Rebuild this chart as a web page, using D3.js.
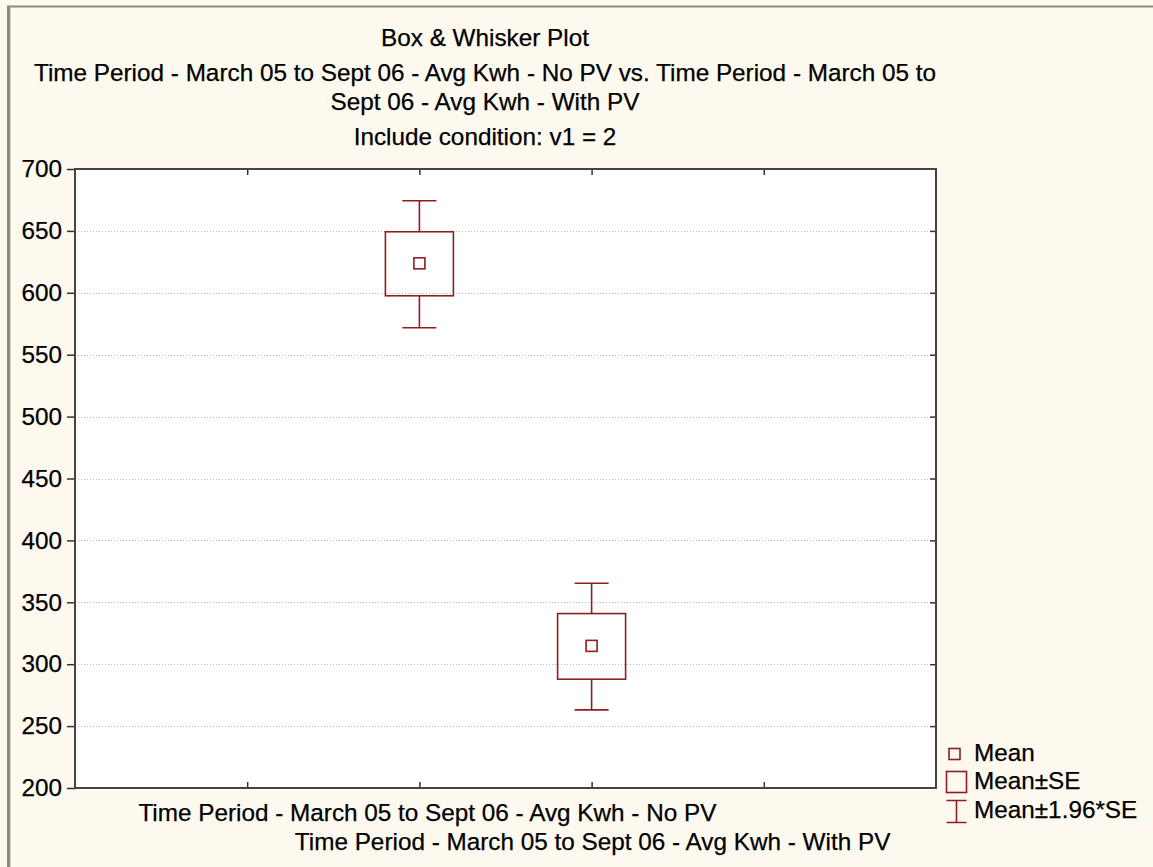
<!doctype html>
<html lang="en">
<head>
<meta charset="utf-8">
<title>Box & Whisker Plot</title>
<script src="https://cdn.jsdelivr.net/npm/d3@7"></script>
<style>
	body { margin: 0; background: #fdf9ef; }
	text { font-family: Arial, "Liberation Sans", sans-serif; fill: #000; stroke: #000; stroke-width: 0.25px; }
</style>
</head>
<body>
<div id="chart"></div>
<script>
/* data */
var categories = [
	'Time Period - March 05 to Sept 06 - Avg Kwh - No PV',
	'Time Period - March 05 to Sept 06 - Avg Kwh - With PV'
];
var catPos = [2, 3];
var means = [623.8, 314.8];
var seLow = [597.6, 287.9];
var seHigh = [649.3, 340.9];
var ciLow = [571.8, 263.1];
var ciHigh = [674.4, 365.4];
var yTicks = [200, 250, 300, 350, 400, 450, 500, 550, 600, 650, 700];
var xTicks = [1, 2, 3, 4];
var titleLines = [
	'Box & Whisker Plot',
	'Time Period - March 05 to Sept 06 - Avg Kwh - No PV vs. Time Period - March 05 to',
	'Sept 06 - Avg Kwh - With PV',
	'Include condition: v1 = 2'
];
var legendLabels = ['Mean', 'Mean\u00b1SE', 'Mean\u00b11.96*SE'];

/* view */
var W = 1153, H = 867;
var FS = '24.3px';
var plot = { left: 75, right: 936, top: 169, bottom: 788 };
var red = '#8e1f1f';

var svg = d3.select('#chart').append('svg')
	.attr('width', W).attr('height', H);

// outer frame
svg.append('rect').attr('x', 0).attr('y', 0).attr('width', W).attr('height', H).attr('fill', '#fdf9ef');
svg.append('line').attr('x1', 7).attr('x2', W).attr('y1', 6.5).attr('y2', 6.5)
	.attr('stroke', '#8a8a80').attr('stroke-width', 2);
svg.append('rect').attr('x', 7).attr('y', 6).attr('width', 3).attr('height', H - 6).attr('fill', '#8a8a80');
svg.append('line').attr('x1', 10.5).attr('x2', 10.5).attr('y1', 8).attr('y2', H)
	.attr('stroke', '#d8d6cc').attr('stroke-width', 1);

var x = d3.scaleLinear().domain([0, 5]).range([plot.left, plot.right]);
var y = d3.scaleLinear().domain([200, 700]).range([plot.bottom, plot.top]);

// plot area
svg.append('rect')
	.attr('x', plot.left).attr('y', plot.top)
	.attr('width', plot.right - plot.left).attr('height', plot.bottom - plot.top)
	.attr('fill', '#fff');

// grid
svg.append('g').selectAll('line')
	.data(yTicks.slice(1, -1))
	.enter().append('line')
	.attr('x1', plot.left).attr('x2', plot.right)
	.attr('y1', function(d){ return Math.round(y(d)) + 0.5; })
	.attr('y2', function(d){ return Math.round(y(d)) + 0.5; })
	.attr('stroke', '#b8b8b8').attr('stroke-dasharray', '1,2');

// axes
var yAxis = d3.axisLeft(y).tickValues(yTicks).tickSize(8).tickPadding(5);
var gy = svg.append('g').attr('transform', 'translate(' + plot.left + ',0)').call(yAxis);
gy.selectAll('text').style('font-size', FS).attr('fill', '#000');

var gyr = svg.append('g').attr('transform', 'translate(' + plot.right + ',0)')
	.call(d3.axisLeft(y).tickValues(yTicks.slice(1, -1)).tickSize(6).tickFormat(''));
var gxb = svg.append('g').attr('transform', 'translate(0,' + plot.bottom + ')')
	.call(d3.axisTop(x).tickValues(xTicks).tickSize(6).tickFormat(''));
var gxt = svg.append('g').attr('transform', 'translate(0,' + plot.top + ')')
	.call(d3.axisBottom(x).tickValues(xTicks).tickSize(6).tickFormat(''));

[gy, gyr, gxb, gxt].forEach(function(g){
	g.select('.domain').remove();
	g.selectAll('line').attr('stroke', '#333').attr('stroke-width', 1.5);
});

svg.append('rect')
	.attr('x', plot.left).attr('y', plot.top)
	.attr('width', plot.right - plot.left).attr('height', plot.bottom - plot.top)
	.attr('fill', 'none').attr('stroke', '#444').attr('stroke-width', 2);

// box & whiskers
var boxHalf = 34, capHalf = 17, meanHalf = 5.5;
var boxes = svg.append('g').selectAll('g')
	.data(categories)
	.enter().append('g')
	.attr('fill', 'none').attr('stroke', red).attr('stroke-width', 1.6);

boxes.append('line')
	.attr('x1', function(d, i){ return x(catPos[i]); })
	.attr('x2', function(d, i){ return x(catPos[i]); })
	.attr('y1', function(d, i){ return y(ciHigh[i]); })
	.attr('y2', function(d, i){ return y(seHigh[i]); });
boxes.append('line')
	.attr('x1', function(d, i){ return x(catPos[i]); })
	.attr('x2', function(d, i){ return x(catPos[i]); })
	.attr('y1', function(d, i){ return y(seLow[i]); })
	.attr('y2', function(d, i){ return y(ciLow[i]); });
boxes.append('line')
	.attr('x1', function(d, i){ return x(catPos[i]) - capHalf; })
	.attr('x2', function(d, i){ return x(catPos[i]) + capHalf; })
	.attr('y1', function(d, i){ return y(ciHigh[i]); })
	.attr('y2', function(d, i){ return y(ciHigh[i]); });
boxes.append('line')
	.attr('x1', function(d, i){ return x(catPos[i]) - capHalf; })
	.attr('x2', function(d, i){ return x(catPos[i]) + capHalf; })
	.attr('y1', function(d, i){ return y(ciLow[i]); })
	.attr('y2', function(d, i){ return y(ciLow[i]); });
boxes.append('rect')
	.attr('x', function(d, i){ return x(catPos[i]) - boxHalf; })
	.attr('y', function(d, i){ return y(seHigh[i]); })
	.attr('width', boxHalf * 2)
	.attr('height', function(d, i){ return y(seLow[i]) - y(seHigh[i]); });
boxes.append('rect')
	.attr('x', function(d, i){ return x(catPos[i]) - meanHalf; })
	.attr('y', function(d, i){ return y(means[i]) - meanHalf; })
	.attr('width', meanHalf * 2).attr('height', meanHalf * 2);

// category labels (staggered on two rows)
var labelDx = [8, 1];
svg.append('g').selectAll('text')
	.data(categories)
	.enter().append('text')
	.attr('x', function(d, i){ return x(catPos[i]) + labelDx[i]; })
	.attr('y', function(d, i){ return i === 0 ? 821 : 850; })
	.attr('text-anchor', 'middle')
	.style('font-size', FS)
	.text(function(d){ return d; });

// titles
var titleY = [46, 81, 110, 145];
svg.append('g').selectAll('text')
	.data(titleLines)
	.enter().append('text')
	.attr('x', 485)
	.attr('y', function(d, i){ return titleY[i]; })
	.attr('text-anchor', 'middle')
	.style('font-size', FS)
	.text(function(d){ return d; });

// legend
var lg = svg.append('g').attr('transform', 'translate(946,0)');
var lgY = [761, 789, 818];
lg.append('rect').attr('x', 3).attr('y', 748.5).attr('width', 11).attr('height', 11)
	.attr('fill', 'none').attr('stroke', red).attr('stroke-width', 1.6);
lg.append('rect').attr('x', 0.5).attr('y', 771.5).attr('width', 20).attr('height', 21)
	.attr('fill', 'none').attr('stroke', red).attr('stroke-width', 1.6);
lg.append('path').attr('d', 'M0.5,800.5H20.5M10.5,800.5V822.5M0.5,822.5H20.5')
	.attr('fill', 'none').attr('stroke', red).attr('stroke-width', 1.6);
lg.selectAll('text.lbl')
	.data(legendLabels)
	.enter().append('text')
	.attr('class', 'lbl')
	.attr('x', 28)
	.attr('y', function(d, i){ return lgY[i]; })
	.style('font-size', FS)
	.text(function(d){ return d; });
</script>
</body>
</html>
